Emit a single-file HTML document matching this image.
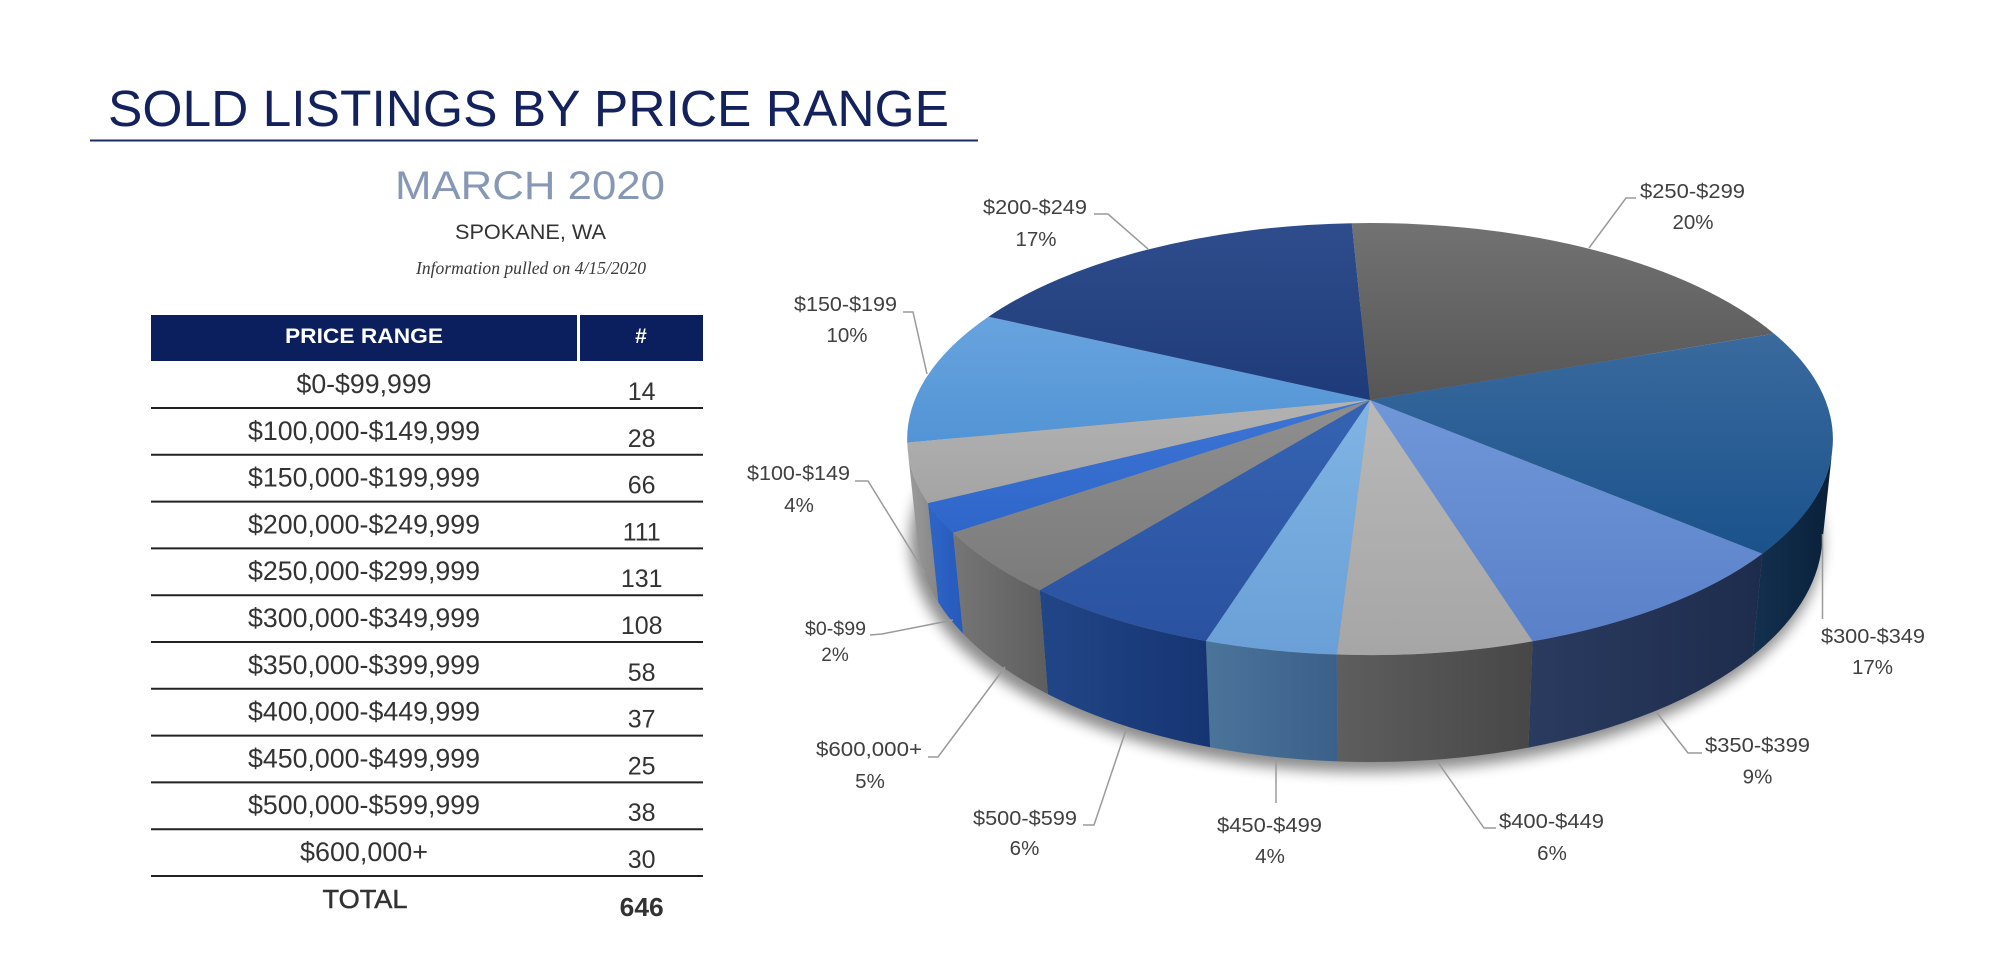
<!DOCTYPE html>
<html>
<head>
<meta charset="utf-8">
<style>
  html,body{margin:0;padding:0;background:#fff;}
  body{width:2000px;height:978px;overflow:hidden;}
  svg{display:block;}
  .t{font-family:"Liberation Sans",Arial,sans-serif;}
  .lbl{font-family:"Liberation Sans",Arial,sans-serif;font-size:20.5px;fill:#404040;text-anchor:middle;}
  .row{font-family:"Liberation Sans",Arial,sans-serif;font-size:26.5px;fill:#333;text-anchor:middle;}
  .num{font-family:"Liberation Sans",Arial,sans-serif;font-size:25px;fill:#333;text-anchor:middle;}
  .ld{fill:none;stroke:#9a9a9a;stroke-width:1.5;}
</style>
</head>
<body>
<svg width="2000" height="978" viewBox="0 0 2000 978" xmlns="http://www.w3.org/2000/svg">
  <defs>
    <filter id="blur" x="-20%" y="-20%" width="140%" height="140%">
      <feGaussianBlur stdDeviation="7"/>
    </filter>
    <linearGradient id="t250" x1="0" y1="0" x2="0" y2="1"><stop offset="0" stop-color="#727272"/><stop offset="1" stop-color="#565656"/></linearGradient>
    <linearGradient id="t300" x1="0" y1="0" x2="0" y2="1"><stop offset="0" stop-color="#3a6a9e"/><stop offset="1" stop-color="#1a528b"/></linearGradient>
    <linearGradient id="t350" x1="0" y1="0" x2="0" y2="1"><stop offset="0" stop-color="#7097d8"/><stop offset="1" stop-color="#5a80c9"/></linearGradient>
    <linearGradient id="t400" x1="0" y1="0" x2="0" y2="1"><stop offset="0" stop-color="#b8b8b8"/><stop offset="1" stop-color="#a6a6a6"/></linearGradient>
    <linearGradient id="t450" x1="0" y1="0" x2="0" y2="1"><stop offset="0" stop-color="#80b4e4"/><stop offset="1" stop-color="#6aa0d7"/></linearGradient>
    <linearGradient id="t500" x1="0" y1="0" x2="0" y2="1"><stop offset="0" stop-color="#3563b2"/><stop offset="1" stop-color="#2a52a0"/></linearGradient>
    <linearGradient id="t600" x1="0" y1="0" x2="0" y2="1"><stop offset="0" stop-color="#8f8f8f"/><stop offset="1" stop-color="#7b7b7b"/></linearGradient>
    <linearGradient id="t0" x1="0" y1="0" x2="0" y2="1"><stop offset="0" stop-color="#3d75d6"/><stop offset="1" stop-color="#2f66c9"/></linearGradient>
    <linearGradient id="t100" x1="0" y1="0" x2="0" y2="1"><stop offset="0" stop-color="#b2b2b2"/><stop offset="1" stop-color="#a4a4a4"/></linearGradient>
    <linearGradient id="t150" x1="0" y1="0" x2="0" y2="1"><stop offset="0" stop-color="#68a3de"/><stop offset="1" stop-color="#5294d5"/></linearGradient>
    <linearGradient id="t200" x1="0" y1="0" x2="0" y2="1"><stop offset="0" stop-color="#2f4d8c"/><stop offset="1" stop-color="#1e3a79"/></linearGradient>

    <linearGradient id="s300" x1="0" y1="0" x2="1" y2="0"><stop offset="0" stop-color="#13304f"/><stop offset="1" stop-color="#0a2039"/></linearGradient>
    <linearGradient id="s350" x1="0" y1="0" x2="1" y2="0"><stop offset="0" stop-color="#2a3b60"/><stop offset="1" stop-color="#1e2c4c"/></linearGradient>
    <linearGradient id="s400" x1="0" y1="0" x2="1" y2="0"><stop offset="0" stop-color="#5e5e5e"/><stop offset="1" stop-color="#474747"/></linearGradient>
    <linearGradient id="s450" x1="0" y1="0" x2="1" y2="0"><stop offset="0" stop-color="#4b749b"/><stop offset="1" stop-color="#3b6089"/></linearGradient>
    <linearGradient id="s500" x1="0" y1="0" x2="1" y2="0"><stop offset="0" stop-color="#214687"/><stop offset="1" stop-color="#163472"/></linearGradient>
    <linearGradient id="s600" x1="0" y1="0" x2="1" y2="0"><stop offset="0" stop-color="#767676"/><stop offset="1" stop-color="#5e5e5e"/></linearGradient>
    <linearGradient id="s0" x1="0" y1="0" x2="1" y2="0"><stop offset="0" stop-color="#2e66c8"/><stop offset="1" stop-color="#2659bb"/></linearGradient>
    <linearGradient id="s100" x1="0" y1="0" x2="1" y2="0"><stop offset="0" stop-color="#9c9c9c"/><stop offset="1" stop-color="#868686"/></linearGradient>
  </defs>

  <!-- Title block -->
  <text class="t" x="108" y="126" font-size="51" fill="#13215c" textLength="841" lengthAdjust="spacingAndGlyphs">SOLD LISTINGS BY PRICE RANGE</text>
  <line x1="90" y1="140.5" x2="978" y2="140.5" stroke="#1c2d5f" stroke-width="2"/>
  <text class="t" x="530" y="199" font-size="40" fill="#8798b6" text-anchor="middle" textLength="270" lengthAdjust="spacingAndGlyphs">MARCH 2020</text>
  <text class="t" x="530.5" y="239" font-size="21" fill="#333" text-anchor="middle" textLength="151" lengthAdjust="spacingAndGlyphs">SPOKANE, WA</text>
  <text x="531" y="274" font-family="'Liberation Serif',serif" font-style="italic" font-size="18" fill="#3a3a3a" text-anchor="middle" textLength="230" lengthAdjust="spacingAndGlyphs">Information pulled on 4/15/2020</text>

  <!-- Table header -->
  <rect x="151" y="315" width="426" height="46" fill="#0b1f5e"/>
  <rect x="580" y="315" width="123" height="46" fill="#0b1f5e"/>
  <text class="t" x="364" y="343" font-size="21" font-weight="bold" fill="#fff" text-anchor="middle" textLength="158" lengthAdjust="spacingAndGlyphs">PRICE RANGE</text>
  <text class="t" x="641" y="343" font-size="21" font-weight="bold" fill="#fff" text-anchor="middle">#</text>

  <!-- Table rows -->
  <g stroke="#222" stroke-width="2">
    <line x1="151" y1="408" x2="703" y2="408"/>
    <line x1="151" y1="454.8" x2="703" y2="454.8"/>
    <line x1="151" y1="501.6" x2="703" y2="501.6"/>
    <line x1="151" y1="548.4" x2="703" y2="548.4"/>
    <line x1="151" y1="595.2" x2="703" y2="595.2"/>
    <line x1="151" y1="642" x2="703" y2="642"/>
    <line x1="151" y1="688.8" x2="703" y2="688.8"/>
    <line x1="151" y1="735.6" x2="703" y2="735.6"/>
    <line x1="151" y1="782.4" x2="703" y2="782.4"/>
    <line x1="151" y1="829.2" x2="703" y2="829.2"/>
    <line x1="151" y1="876" x2="703" y2="876"/>
  </g>
  <text class="row" x="364" y="393" textLength="135" lengthAdjust="spacingAndGlyphs">$0-$99,999</text>
  <text class="row" x="364" y="439.8" textLength="232" lengthAdjust="spacingAndGlyphs">$100,000-$149,999</text>
  <text class="row" x="364" y="486.6" textLength="232" lengthAdjust="spacingAndGlyphs">$150,000-$199,999</text>
  <text class="row" x="364" y="533.4" textLength="232" lengthAdjust="spacingAndGlyphs">$200,000-$249,999</text>
  <text class="row" x="364" y="580.2" textLength="232" lengthAdjust="spacingAndGlyphs">$250,000-$299,999</text>
  <text class="row" x="364" y="627" textLength="232" lengthAdjust="spacingAndGlyphs">$300,000-$349,999</text>
  <text class="row" x="364" y="673.8" textLength="232" lengthAdjust="spacingAndGlyphs">$350,000-$399,999</text>
  <text class="row" x="364" y="720.6" textLength="232" lengthAdjust="spacingAndGlyphs">$400,000-$449,999</text>
  <text class="row" x="364" y="767.4" textLength="232" lengthAdjust="spacingAndGlyphs">$450,000-$499,999</text>
  <text class="row" x="364" y="814.2" textLength="232" lengthAdjust="spacingAndGlyphs">$500,000-$599,999</text>
  <text class="row" x="364" y="861" textLength="128" lengthAdjust="spacingAndGlyphs">$600,000+</text>

  <text class="num" x="641.7" y="400">14</text>
  <text class="num" x="641.7" y="446.8">28</text>
  <text class="num" x="641.7" y="493.6">66</text>
  <text class="num" x="641.7" y="540.4">111</text>
  <text class="num" x="641.7" y="587.2">131</text>
  <text class="num" x="641.7" y="634">108</text>
  <text class="num" x="641.7" y="680.8">58</text>
  <text class="num" x="641.7" y="727.6">37</text>
  <text class="num" x="641.7" y="774.4">25</text>
  <text class="num" x="641.7" y="821.2">38</text>
  <text class="num" x="641.7" y="868">30</text>

  <text class="t" x="365" y="908" font-size="26" fill="#333" text-anchor="middle" stroke="#333" stroke-width="0.5" textLength="85" lengthAdjust="spacingAndGlyphs">TOTAL</text>
  <text class="t" x="641.7" y="916" font-size="26" font-weight="bold" fill="#333" text-anchor="middle" textLength="44" lengthAdjust="spacingAndGlyphs">646</text>

  <!-- Pie shadow -->
  <ellipse cx="1366" cy="542" rx="456" ry="230" fill="#000" opacity="0.45" filter="url(#blur)"/>

  <!-- Pie sides -->
  <path d="M1832.3,449.9 A462.9,216 0 0 1 1762.3,553.7 L1752.7,655.6 A452.6,228.1 0 0 0 1821.9,546.2 Z" fill="url(#s300)"/>
  <path d="M1762.3,553.7 A462.9,216 0 0 1 1532.6,641.3 L1528.4,747.6 A452.6,228.1 0 0 0 1752.7,655.6 Z" fill="url(#s350)"/>
  <path d="M1532.6,641.3 A462.9,216 0 0 1 1336.8,654.5 L1337.6,761.4 A452.6,228.1 0 0 0 1528.4,747.6 Z" fill="url(#s400)"/>
  <path d="M1336.8,654.5 A462.9,216 0 0 1 1205.9,641 L1210.1,747.3 A452.6,228.1 0 0 0 1337.6,761.4 Z" fill="url(#s450)"/>
  <path d="M1205.9,641 A462.9,216 0 0 1 1039.7,590.3 L1047.9,694.1 A452.6,228.1 0 0 0 1210.1,747.3 Z" fill="url(#s500)"/>
  <path d="M1039.7,590.3 A462.9,216 0 0 1 953,532.8 L963,633.6 A452.6,228.1 0 0 0 1047.9,694.1 Z" fill="url(#s600)"/>
  <path d="M953,532.8 A462.9,216 0 0 1 927.9,503.1 L938.3,602.4 A452.6,228.1 0 0 0 963,633.6 Z" fill="url(#s0)"/>
  <path d="M927.9,503.1 A462.9,216 0 0 1 907.7,449.9 L918.1,546.2 A452.6,228.1 0 0 0 938.3,602.4 Z" fill="url(#s100)"/>

  <!-- Pie top faces -->
  <path d="M1370,400 L1351.8,223.2 A462.9,216 0 0 1 1774,333.6 Z" fill="url(#t250)"/>
  <path d="M1370,400 L1774,333.6 A462.9,216 0 0 1 1762.3,553.7 Z" fill="url(#t300)"/>
  <path d="M1370,400 L1762.3,553.7 A462.9,216 0 0 1 1532.6,641.3 Z" fill="url(#t350)"/>
  <path d="M1370,400 L1532.6,641.3 A462.9,216 0 0 1 1336.8,654.5 Z" fill="url(#t400)"/>
  <path d="M1370,400 L1336.8,654.5 A462.9,216 0 0 1 1205.9,641 Z" fill="url(#t450)"/>
  <path d="M1370,400 L1205.9,641 A462.9,216 0 0 1 1039.7,590.3 Z" fill="url(#t500)"/>
  <path d="M1370,400 L1039.7,590.3 A462.9,216 0 0 1 953,532.8 Z" fill="url(#t600)"/>
  <path d="M1370,400 L953,532.8 A462.9,216 0 0 1 927.9,503.1 Z" fill="url(#t0)"/>
  <path d="M1370,400 L927.9,503.1 A462.9,216 0 0 1 907.2,442.6 Z" fill="url(#t100)"/>
  <path d="M1370,400 L907.2,442.6 A462.9,216 0 0 1 988.5,316.7 Z" fill="url(#t150)"/>
  <path d="M1370,400 L988.5,316.7 A462.9,216 0 0 1 1351.8,223.2 Z" fill="url(#t200)"/>

  <!-- Leader lines -->
  <polyline class="ld" points="1094,214 1108,214 1148,249"/>
  <polyline class="ld" points="1636,198 1626,198 1589,248"/>
  <polyline class="ld" points="903,312 913,312 927,374"/>
  <polyline class="ld" points="855,481 868,481 925,573"/>
  <polyline class="ld" points="870,635 882,634 953,620"/>
  <polyline class="ld" points="928,757 938,757 1005,667"/>
  <polyline class="ld" points="1083,825 1094,825 1127,727"/>
  <polyline class="ld" points="1276,758 1276,803"/>
  <polyline class="ld" points="1496,828 1484,828 1437,761"/>
  <polyline class="ld" points="1702,753 1688,753 1657,713"/>
  <polyline class="ld" points="1822.5,534 1822.5,619"/>

  <!-- Pie labels -->
  <text class="lbl" x="1035" y="214" textLength="104" lengthAdjust="spacingAndGlyphs">$200-$249</text>
  <text class="lbl" x="1036" y="246">17%</text>
  <text class="lbl" x="1692.5" y="198" textLength="105" lengthAdjust="spacingAndGlyphs">$250-$299</text>
  <text class="lbl" x="1693" y="229">20%</text>
  <text class="lbl" x="845.5" y="311" textLength="103" lengthAdjust="spacingAndGlyphs">$150-$199</text>
  <text class="lbl" x="847" y="342">10%</text>
  <text class="lbl" x="798.5" y="480" textLength="103" lengthAdjust="spacingAndGlyphs">$100-$149</text>
  <text class="lbl" x="799" y="512">4%</text>
  <text class="lbl" x="835.5" y="635" style="font-size:19px" textLength="61" lengthAdjust="spacingAndGlyphs">$0-$99</text>
  <text class="lbl" x="835" y="661" style="font-size:19px">2%</text>
  <text class="lbl" x="869" y="756" textLength="106" lengthAdjust="spacingAndGlyphs">$600,000+</text>
  <text class="lbl" x="870" y="788">5%</text>
  <text class="lbl" x="1025" y="825" textLength="104" lengthAdjust="spacingAndGlyphs">$500-$599</text>
  <text class="lbl" x="1024.5" y="855">6%</text>
  <text class="lbl" x="1269.5" y="832" textLength="105" lengthAdjust="spacingAndGlyphs">$450-$499</text>
  <text class="lbl" x="1270" y="863">4%</text>
  <text class="lbl" x="1551.5" y="828" textLength="105" lengthAdjust="spacingAndGlyphs">$400-$449</text>
  <text class="lbl" x="1552" y="860">6%</text>
  <text class="lbl" x="1757.5" y="752" textLength="105" lengthAdjust="spacingAndGlyphs">$350-$399</text>
  <text class="lbl" x="1757.5" y="783.5">9%</text>
  <text class="lbl" x="1873" y="643" textLength="104" lengthAdjust="spacingAndGlyphs">$300-$349</text>
  <text class="lbl" x="1872.5" y="674">17%</text>
</svg>
</body>
</html>
